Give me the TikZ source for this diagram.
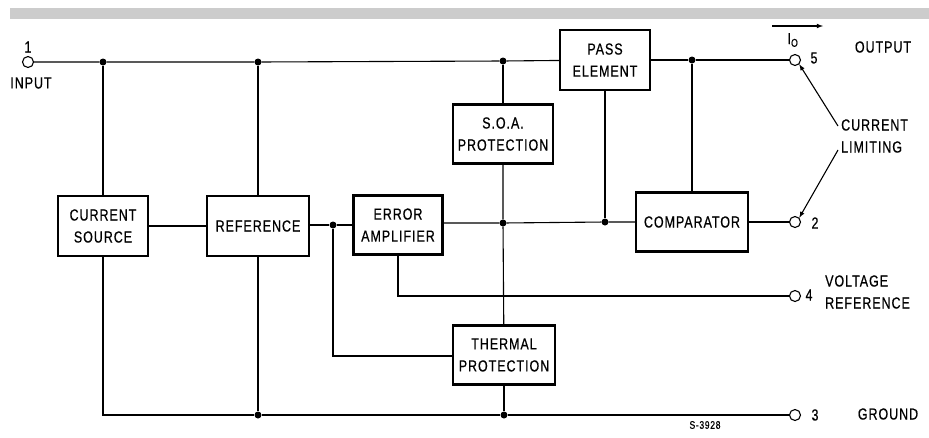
\documentclass[tikz,border=0pt]{standalone}
\usepackage{fontspec}
\setmainfont{Liberation Sans}[LetterSpace=6, FakeStretch=0.78, FakeBold=0.6]
\usepackage{tikz}

\begin{document}
\begin{tikzpicture}[x=1pt, y=-1pt, font=\fontsize{16}{22}\selectfont,
		block/.style={draw, line width=2.2pt, align=center, inner sep=0pt},
		wire/.style={line width=1.1pt},
		term/.style={draw, circle, line width=1.1pt, minimum size=11pt, inner sep=0pt},
		jdot/.style={circle, fill, minimum size=7pt, inner sep=0pt},
		lbl/.style={inner sep=1pt}]
				\useasboundingbox (0,0) rectangle (929,437);
				\fill[gray!40] (10,8) rectangle (929,19);
				
				% blocks
				\node (cs) at (103,226) [block, minimum width=90pt, minimum height=60pt] {CURRENT\\SOURCE};
				\node (ref) at (258,226) [block, minimum width=102pt, minimum height=60pt] {REFERENCE};
				\node (ea) at (398,225) [block, minimum width=89pt, minimum height=59pt] {ERROR\\AMPLIFIER};
				\node (soa) at (503,134) [block, minimum width=100pt, minimum height=59pt] {S.O.A.\\PROTECTION};
				\node (pass) at (605,60) [block, minimum width=90pt, minimum height=60pt] {PASS\\ELEMENT};
				\node (th) at (504,355) [block, minimum width=102pt, minimum height=59pt] {THERMAL\\PROTECTION};
				\node (cmp) at (692,222) [block, minimum width=112pt, minimum height=59pt] {COMPARATOR};
				
				% terminals
				\node (in) at (28,62) [term] {};
				\node (o5) at (795,60) [term] {};
				\node (o2) at (795,222) [term] {};
				\node (o4) at (795,296) [term] {};
				\node (o3) at (795,415) [term] {};
				
				% junctions
				\node (j1) at (103,62) [jdot] {};
				\node (j2) at (258,62) [jdot] {};
				\node (j3) at (503,61) [jdot] {};
				\node (j4) at (692,60) [jdot] {};
				\node (j5) at (333,225) [jdot] {};
				\node (j6) at (503,223) [jdot] {};
				\node (j7) at (605,222) [jdot] {};
				\node (j8) at (258,415) [jdot] {};
				\node (j9) at (504,415) [jdot] {};
				\coordinate (c1) at (103,415);
				\coordinate (c2) at (333,356);
				\coordinate (c3) at (398,296);
				
				% wires
				\draw[wire] (in) -- (j1) -- (j2) -- (j3) -- (pass);
				\draw[wire] (pass) -- (j4) -- (o5);
				\draw[wire] (j1) -- (cs);
				\draw[wire] (j2) -- (ref);
				\draw[wire] (j3) -- (soa);
				\draw[wire] (j4) -- (cmp);
				\draw[wire] (pass) -- (j7);
				\draw[wire] (cs) -- (ref);
				\draw[wire] (ref.east |- j5) -- (j5) -- (ea.west |- j5);
				\draw[wire] (ea.east |- j6) -- (j6) -- (j7) -- (cmp.west |- j7);
				\draw[wire] (soa) -- (j6) -- (th);
				\draw[wire] (cmp) -- (o2);
				\draw[wire] (j5) -- (c2) -- (th.west |- c2);
				\draw[wire] (ea.south -| c3) -- (c3) -- (o4);
				\draw[wire] (cs) -- (c1) -- (j8) -- (j9) -- (o3);
				\draw[wire] (ref) -- (j8);
				\draw[wire] (th) -- (j9);
				
				% labels
				\node[lbl] (n1) at (28,47) {1};
				\node[lbl] (ninput) at (31,83) {INPUT};
				\node[lbl] (n5) at (814,58) {5};
				\node[lbl] (noutput) at (883,47) {OUTPUT};
				\node[lbl] (nio) at (793,40) {I\textsubscript{O}};
				\coordinate (ia) at (772,26);
				\coordinate (ib) at (823,26);
				\draw[wire, -latex] (ia) -- (ib);
				\node[lbl, align=left, anchor=west] (nlim) at (840,136) {CURRENT\\LIMITING};
				\coordinate (la) at (838,126);
				\coordinate (lb) at (838,150);
				\draw[wire, -latex] (la) -- (o5.south east);
				\draw[wire, -latex] (lb) -- (o2.north east);
				\node[lbl] (n2) at (815,223) {2};
				\node[lbl] (n4) at (809,295) {4};
				\node[lbl, align=left, anchor=west] (nvref) at (824,292) {VOLTAGE\\REFERENCE};
				\node[lbl] (n3) at (815,415) {3};
				\node[lbl] (nground) at (888,414) {GROUND};
				\node[lbl, font=\fontsize{11}{12}\selectfont] (nfig) at (705,425) {S-3928};
			\end{tikzpicture}
\end{document}
